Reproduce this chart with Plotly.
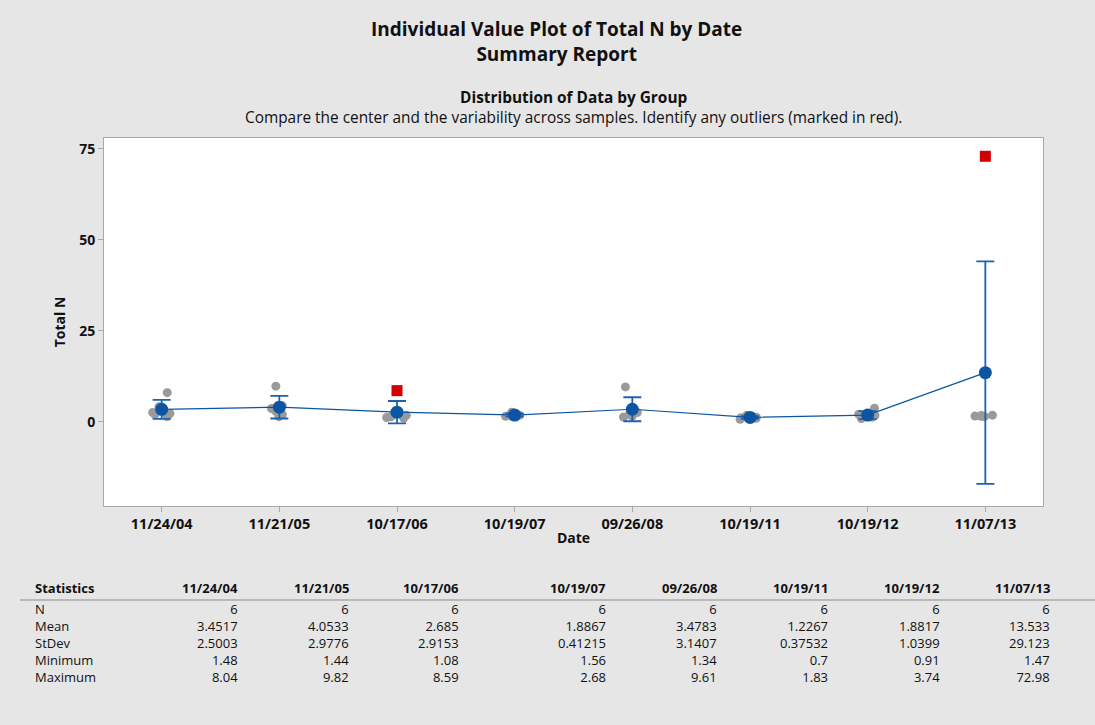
import plotly.graph_objects as go

# data
dates = ["11/24/04", "11/21/05", "10/17/06", "10/19/07", "09/26/08", "10/19/11", "10/19/12", "11/07/13"]

n_obs = [6, 6, 6, 6, 6, 6, 6, 6]
means = [3.4517, 4.0533, 2.685, 1.8867, 3.4783, 1.2267, 1.8817, 13.533]
stdevs = [2.5003, 2.9776, 2.9153, 0.41215, 3.1407, 0.37532, 1.0399, 29.123]
minimums = [1.48, 1.44, 1.08, 1.56, 1.34, 0.7, 0.91, 1.47]
maximums = [8.04, 9.82, 8.59, 2.68, 9.61, 1.83, 3.74, 72.98]

# 95% CI half widths of the mean
ci_half = [2.62, 3.12, 3.06, 0.43, 3.30, 0.39, 1.09, 30.56]

# individual values per date (outliers kept apart)
values = {
    "11/24/04": [1.48, 2.1, 2.3, 2.6, 4.2, 8.04],
    "11/21/05": [1.44, 2.0, 2.9, 3.7, 4.46, 9.82],
    "10/17/06": [1.08, 1.2, 1.4, 1.8, 2.04],
    "10/19/07": [1.56, 1.62, 1.7, 1.8, 1.96, 2.68],
    "09/26/08": [1.34, 1.6, 2.0, 2.6, 3.72, 9.61],
    "10/19/11": [0.7, 1.0, 1.15, 1.28, 1.4, 1.83],
    "10/19/12": [0.91, 1.3, 1.5, 1.74, 2.1, 3.74],
    "11/07/13": [1.47, 1.55, 1.6, 1.75, 1.85],
}
outlier_dates = ["10/17/06", "11/07/13"]
outlier_values = [8.59, 72.98]

BLUE = "#0b55a3"
GRAY = "#9a9a9a"
RED = "#d20000"
FONT = "Open Sans"

# plot area in pixels (for placing the report text)
L, R, T, B = 104, 1043, 138, 506


def px(x):
    return (x - L) / (R - L)


def py(y):
    return (B - y) / (B - T)


def note(text, x, y, size, xanchor="center", align="center"):
    return dict(xref="paper", yref="paper", x=px(x), y=py(y), text=text, showarrow=False,
                xanchor=xanchor, yanchor="middle", align=align,
                font=dict(family=FONT, size=size, color="#111"))


pts_x, pts_y = [], []
for d in dates:
    for v in values[d]:
        pts_x.append(d)
        pts_y.append(v)

fig = go.Figure()

fig.add_trace(go.Box(x=pts_x, y=pts_y, boxpoints="all", jitter=0.6, pointpos=0,
                     width=0.3, fillcolor="rgba(0,0,0,0)", line=dict(width=0, color="rgba(0,0,0,0)"),
                     marker=dict(color=GRAY, size=9), hoveron="points", showlegend=False))

fig.add_trace(go.Scatter(x=outlier_dates, y=outlier_values, mode="markers",
                         marker=dict(symbol="square", color=RED, size=11), showlegend=False))

fig.add_trace(go.Scatter(x=dates, y=means, mode="lines+markers",
                         line=dict(color=BLUE, width=1.2),
                         marker=dict(color=BLUE, size=13),
                         error_y=dict(type="data", array=ci_half, color="#1d62b0", thickness=1.8, width=9),
                         showlegend=False))

annotations = [
    note("<b>Individual Value Plot of Total N by Date</b><br><b>Summary Report</b>", 556, 41, 19),
    note("<b>Distribution of Data by Group</b><br>Compare the center and the variability across samples. "
         "Identify any outliers (marked in red).", 573, 108, 15.4),
]

# statistics table
col_right = [240, 351, 461, 608, 719, 830, 942, 1052]
row_names = ["N", "Mean", "StDev", "Minimum", "Maximum"]
rows = [n_obs, means, stdevs, minimums, maximums]

annotations.append(note("<b>Statistics</b>", 33, 588, 13, xanchor="left", align="left"))
annotations.append(note("<br>".join(row_names), 33, 642.5, 13, xanchor="left", align="left"))
for i, (d, cx) in enumerate(zip(dates, col_right)):
    annotations.append(note(f"<b>{d}</b>", cx, 588, 13, xanchor="right", align="right"))
    col = "<br>".join(str(r[i]) for r in rows)
    annotations.append(note(col, cx, 642.5, 13, xanchor="right", align="right"))

fig.update_layout(
    width=1095, height=725,
    margin=dict(l=L, r=1095 - R, t=T, b=725 - B),
    paper_bgcolor="#e6e6e6",
    plot_bgcolor="white",
    font=dict(family=FONT, size=12, color="#111"),
    annotations=annotations,
    shapes=[dict(type="line", xref="paper", yref="paper", x0=px(20), x1=px(1095), y0=py(600), y1=py(600),
                 line=dict(color="#aaaaaa", width=1.5))],
    xaxis=dict(type="category", categoryorder="array", categoryarray=dates, range=[-0.49, 7.49],
               showline=True, linecolor="#a8a8a8", mirror=True, showgrid=False, zeroline=False,
               ticks="outside", ticklen=5, tickcolor="#a8a8a8",
               tickfont=dict(family=FONT, size=14.5, weight="bold"),
               title=dict(text="<b>Date</b>", font=dict(family=FONT, size=14), standoff=0)),
    yaxis=dict(range=[-23.1, 78.0], tickvals=[0, 25, 50, 75],
               showline=True, linecolor="#a8a8a8", mirror=True, showgrid=False, zeroline=False,
               ticks="outside", ticklen=5, tickcolor="#a8a8a8",
               tickfont=dict(family=FONT, size=14, weight="bold"),
               title=dict(text="<b>Total N</b>", font=dict(family=FONT, size=14), standoff=10)),
)

fig.write_html("out.html", config={"displayModeBar": False},
               post_script="document.body.style.margin = '0';")
